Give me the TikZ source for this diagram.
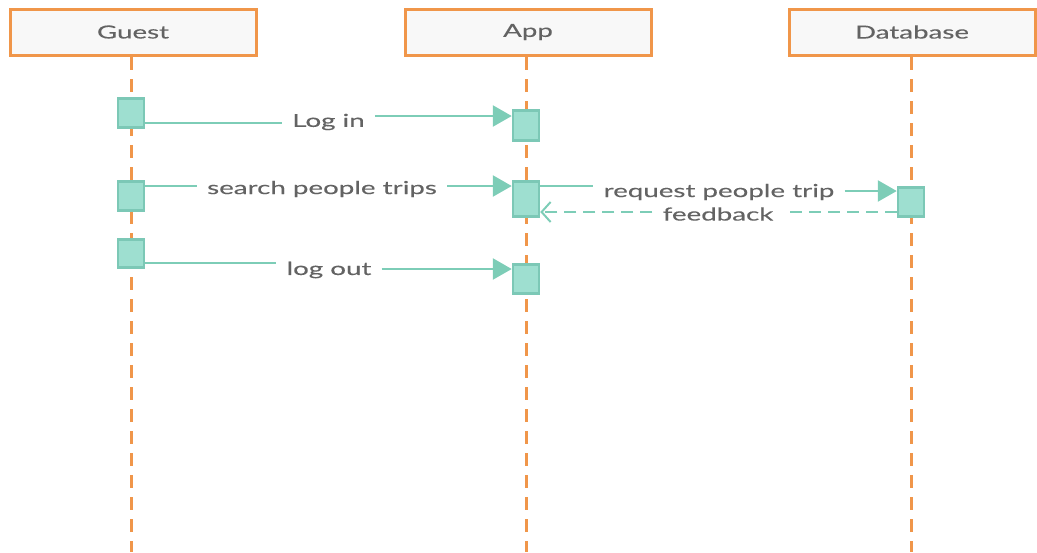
\documentclass[tikz,border=0pt]{standalone}
\usepackage{fontspec}
\setmainfont{Lato}
\newfontfamily\widelato[FakeStretch=1.54, FakeBold=0.2]{Lato}
\usetikzlibrary{arrows.meta}
\definecolor{lifeor}{HTML}{F0964A}
\definecolor{headfill}{HTML}{F8F8F8}
\definecolor{actfill}{HTML}{9EDFD0}
\definecolor{actdraw}{HTML}{7CC8B6}
\definecolor{msgcol}{HTML}{7DCDB7}
\definecolor{txtcol}{HTML}{636363}
\tikzset{
  header/.style={draw=lifeor, line width=3pt, fill=headfill, minimum width=246pt, minimum height=46pt, inner sep=0pt, text=txtcol, font=\widelato\fontsize{18}{20}\selectfont},
  lifeline/.style={draw=lifeor, line width=3pt, dash pattern=on 13pt off 9pt},
  act/.style={draw=actdraw, line width=2.5pt, fill=actfill, minimum width=26pt, inner sep=0pt},
  msg/.style={draw=msgcol, line width=2.5pt},
  msglabel/.style={text=txtcol, font=\widelato\fontsize{18}{20}\selectfont, inner ysep=0pt, inner xsep=10pt},
  filledhead/.style={-{Triangle[length=19pt,width=21pt]}},
  openhead/.style={-{Straight Barb[length=9pt,width=20pt,line width=2pt]}},
  fbdash/.style={dash pattern=on 12pt off 7pt},
}
\begin{document}
\begin{tikzpicture}[x=1pt,y=-1pt]
\useasboundingbox (0,0) rectangle (1037,552);
% headers
\node[header] (guest) at (133,32) {Guest};
\node[header] (app) at (528,32) {App};
\node[header] (db) at (912,32) {Database};
% lifeline ends
\coordinate (gEnd) at (131,552);
\coordinate (aEnd) at (526,552);
\coordinate (dEnd) at (911,552);
\draw[lifeline] (131,57) -- (gEnd);
\draw[lifeline] (526,57) -- (aEnd);
\draw[lifeline] (911,57) -- (dEnd);
% activations
\node[act, minimum height=29pt] (g1) at (131,113) {};
\node[act, minimum height=30pt] (a1) at (526,125.5) {};
\node[act, minimum height=29pt] (g2) at (131,196) {};
\node[act, minimum height=35pt] (a2) at (526,199) {};
\node[act, minimum height=28pt] (g3) at (131,253.5) {};
\node[act, minimum height=29pt] (a3) at (526,279) {};
\node[act, minimum height=29pt] (d1) at (911,202) {};
% labels
\node[msglabel] (l1) at (328.5,122) {Log in};
\node[msglabel] (l2) at (322,189) {search people trips};
\node[msglabel] (l3) at (329,270) {log out};
\node[msglabel] (l4) at (719,192) {request people trip};
\node[msglabel] (l5) at (718,214) {feedback};
% messages
\draw[msg] (g1.east |- 0,123) -- (l1.west |- 0,123);
\draw[msg, filledhead] (l1.east |- 0,116) -- (a1.west |- 0,116);
\draw[msg] (g2.east |- 0,186) -- (l2.west |- 0,186);
\draw[msg, filledhead] (l2.east |- 0,186) -- (a2.west |- 0,186);
\draw[msg] (g3.east |- 0,263) -- (l3.west |- 0,263);
\draw[msg, filledhead] (l3.east |- 0,269) -- (a3.west |- 0,269);
\draw[msg] (a2.east |- 0,186) -- (l4.west |- 0,186);
\draw[msg, filledhead] (l4.east |- 0,191) -- (d1.west |- 0,191);
\draw[msg, fbdash] (d1.west |- 0,212) -- (l5.east |- 0,212);
\draw[msg, openhead, fbdash] (l5.west |- 0,212) -- (a2.east |- 0,212);
\end{tikzpicture}
\end{document}
